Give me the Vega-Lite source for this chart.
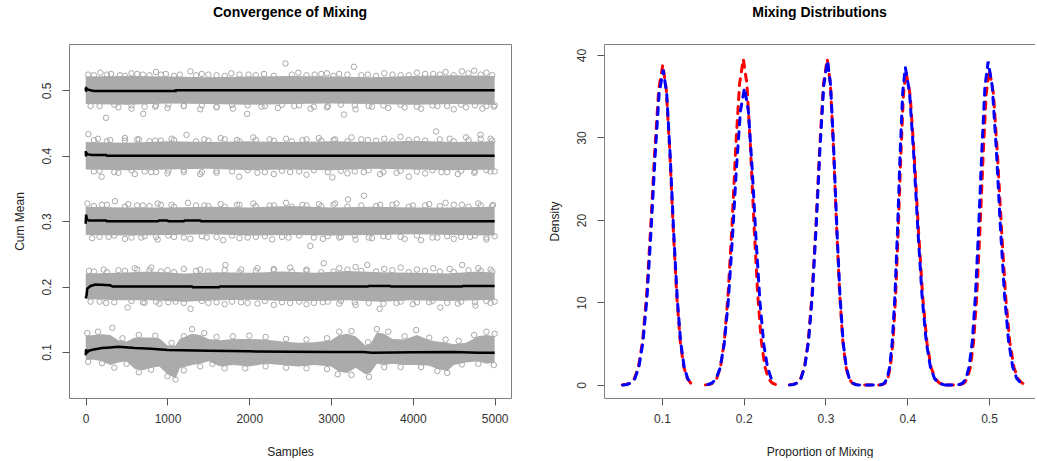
{
  "$schema": "https://vega.github.io/schema/vega-lite/v6.json",
  "padding": {"left": 12, "top": 5, "right": 0, "bottom": 0},
  "background": "white",
  "datasets": {
    "band": [
      {"s":"a","x":0,"lo":0.479,"hi":0.521},{"s":"a","x":500,"lo":0.478,"hi":0.522},{"s":"a","x":1000,"lo":0.480,"hi":0.521},{"s":"a","x":1500,"lo":0.479,"hi":0.520},{"s":"a","x":2000,"lo":0.478,"hi":0.521},{"s":"a","x":2500,"lo":0.479,"hi":0.522},{"s":"a","x":3000,"lo":0.480,"hi":0.521},{"s":"a","x":3500,"lo":0.479,"hi":0.520},{"s":"a","x":4000,"lo":0.478,"hi":0.522},{"s":"a","x":4500,"lo":0.479,"hi":0.523},{"s":"a","x":5000,"lo":0.478,"hi":0.522},
      {"s":"b","x":0,"lo":0.379,"hi":0.421},{"s":"b","x":500,"lo":0.378,"hi":0.420},{"s":"b","x":1000,"lo":0.379,"hi":0.422},{"s":"b","x":1500,"lo":0.380,"hi":0.421},{"s":"b","x":2000,"lo":0.378,"hi":0.422},{"s":"b","x":2500,"lo":0.379,"hi":0.421},{"s":"b","x":3000,"lo":0.378,"hi":0.422},{"s":"b","x":3500,"lo":0.380,"hi":0.421},{"s":"b","x":4000,"lo":0.379,"hi":0.423},{"s":"b","x":4500,"lo":0.378,"hi":0.421},{"s":"b","x":5000,"lo":0.379,"hi":0.422},
      {"s":"c","x":0,"lo":0.279,"hi":0.322},{"s":"c","x":500,"lo":0.278,"hi":0.321},{"s":"c","x":1000,"lo":0.279,"hi":0.321},{"s":"c","x":1500,"lo":0.280,"hi":0.322},{"s":"c","x":2000,"lo":0.278,"hi":0.321},{"s":"c","x":2500,"lo":0.279,"hi":0.323},{"s":"c","x":3000,"lo":0.278,"hi":0.321},{"s":"c","x":3500,"lo":0.279,"hi":0.322},{"s":"c","x":4000,"lo":0.280,"hi":0.321},{"s":"c","x":4500,"lo":0.279,"hi":0.321},{"s":"c","x":5000,"lo":0.278,"hi":0.322},
      {"s":"d","x":0,"lo":0.181,"hi":0.220},{"s":"d","x":400,"lo":0.179,"hi":0.221},{"s":"d","x":800,"lo":0.179,"hi":0.223},{"s":"d","x":1200,"lo":0.177,"hi":0.220},{"s":"d","x":1600,"lo":0.179,"hi":0.222},{"s":"d","x":2000,"lo":0.180,"hi":0.221},{"s":"d","x":2400,"lo":0.178,"hi":0.223},{"s":"d","x":2800,"lo":0.178,"hi":0.221},{"s":"d","x":3200,"lo":0.179,"hi":0.224},{"s":"d","x":3600,"lo":0.177,"hi":0.222},{"s":"d","x":4000,"lo":0.179,"hi":0.221},{"s":"d","x":4400,"lo":0.178,"hi":0.220},{"s":"d","x":4800,"lo":0.179,"hi":0.223},{"s":"d","x":5000,"lo":0.180,"hi":0.221},
      {"s":"e","x":0,"lo":0.088,"hi":0.125},{"s":"e","x":100,"lo":0.088,"hi":0.126},{"s":"e","x":200,"lo":0.086,"hi":0.127},{"s":"e","x":300,"lo":0.080,"hi":0.126},{"s":"e","x":400,"lo":0.084,"hi":0.118},{"s":"e","x":500,"lo":0.086,"hi":0.116},{"s":"e","x":600,"lo":0.074,"hi":0.122},{"s":"e","x":700,"lo":0.072,"hi":0.122},{"s":"e","x":800,"lo":0.076,"hi":0.122},{"s":"e","x":900,"lo":0.078,"hi":0.121},{"s":"e","x":1000,"lo":0.066,"hi":0.110},{"s":"e","x":1100,"lo":0.060,"hi":0.110},{"s":"e","x":1150,"lo":0.075,"hi":0.120},{"s":"e","x":1300,"lo":0.080,"hi":0.128},{"s":"e","x":1400,"lo":0.082,"hi":0.126},{"s":"e","x":1500,"lo":0.086,"hi":0.120},{"s":"e","x":1650,"lo":0.078,"hi":0.118},{"s":"e","x":1800,"lo":0.080,"hi":0.120},{"s":"e","x":2000,"lo":0.078,"hi":0.120},{"s":"e","x":2200,"lo":0.082,"hi":0.119},{"s":"e","x":2400,"lo":0.080,"hi":0.116},{"s":"e","x":2600,"lo":0.078,"hi":0.114},{"s":"e","x":2800,"lo":0.080,"hi":0.115},{"s":"e","x":3000,"lo":0.078,"hi":0.118},{"s":"e","x":3100,"lo":0.070,"hi":0.126},{"s":"e","x":3200,"lo":0.068,"hi":0.128},{"s":"e","x":3300,"lo":0.076,"hi":0.124},{"s":"e","x":3420,"lo":0.066,"hi":0.110},{"s":"e","x":3480,"lo":0.068,"hi":0.112},{"s":"e","x":3560,"lo":0.082,"hi":0.130},{"s":"e","x":3650,"lo":0.080,"hi":0.128},{"s":"e","x":3750,"lo":0.082,"hi":0.120},{"s":"e","x":3900,"lo":0.080,"hi":0.119},{"s":"e","x":4050,"lo":0.080,"hi":0.126},{"s":"e","x":4200,"lo":0.079,"hi":0.118},{"s":"e","x":4300,"lo":0.074,"hi":0.116},{"s":"e","x":4420,"lo":0.071,"hi":0.114},{"s":"e","x":4500,"lo":0.080,"hi":0.112},{"s":"e","x":4650,"lo":0.084,"hi":0.114},{"s":"e","x":4800,"lo":0.086,"hi":0.124},{"s":"e","x":4900,"lo":0.082,"hi":0.126},{"s":"e","x":5000,"lo":0.084,"hi":0.124}
    ],
    "pts": [
      {"x":30,"y":0.524},{"x":180,"y":0.527},{"x":310,"y":0.525},{"x":420,"y":0.523},{"x":560,"y":0.526},{"x":700,"y":0.524},{"x":860,"y":0.528},{"x":980,"y":0.525},{"x":1150,"y":0.524},{"x":1280,"y":0.529},{"x":1420,"y":0.525},{"x":1600,"y":0.523},{"x":1780,"y":0.526},{"x":1990,"y":0.524},{"x":2180,"y":0.525},{"x":2442,"y":0.541},{"x":2600,"y":0.527},{"x":2800,"y":0.524},{"x":2950,"y":0.526},{"x":3100,"y":0.525},{"x":3280,"y":0.536},{"x":3450,"y":0.524},{"x":3650,"y":0.526},{"x":3850,"y":0.523},{"x":4050,"y":0.527},{"x":4250,"y":0.525},{"x":4400,"y":0.528},{"x":4600,"y":0.529},{"x":4750,"y":0.530},{"x":4900,"y":0.527},
      {"x":60,"y":0.476},{"x":248,"y":0.458},{"x":400,"y":0.474},{"x":560,"y":0.472},{"x":704,"y":0.464},{"x":850,"y":0.475},{"x":1000,"y":0.473},{"x":1200,"y":0.476},{"x":1400,"y":0.471},{"x":1600,"y":0.474},{"x":1800,"y":0.472},{"x":1974,"y":0.464},{"x":2150,"y":0.475},{"x":2350,"y":0.473},{"x":2550,"y":0.476},{"x":2750,"y":0.472},{"x":2950,"y":0.474},{"x":3158,"y":0.463},{"x":3300,"y":0.471},{"x":3500,"y":0.475},{"x":3700,"y":0.473},{"x":3900,"y":0.474},{"x":4100,"y":0.472},{"x":4300,"y":0.476},{"x":4500,"y":0.471},{"x":4650,"y":0.474},{"x":4850,"y":0.472},{"x":4990,"y":0.475},
      {"x":100,"y":0.523},{"x":260,"y":0.524},{"x":480,"y":0.522},{"x":630,"y":0.525},{"x":780,"y":0.523},{"x":920,"y":0.524},{"x":1080,"y":0.522},{"x":1350,"y":0.523},{"x":1500,"y":0.524},{"x":1700,"y":0.522},{"x":1880,"y":0.524},{"x":2080,"y":0.523},{"x":2300,"y":0.522},{"x":2520,"y":0.524},{"x":2700,"y":0.523},{"x":2880,"y":0.525},{"x":3030,"y":0.522},{"x":3200,"y":0.524},{"x":3370,"y":0.523},{"x":3550,"y":0.522},{"x":3750,"y":0.524},{"x":3950,"y":0.523},{"x":4150,"y":0.525},{"x":4330,"y":0.524},{"x":4500,"y":0.523},{"x":4680,"y":0.526},{"x":4830,"y":0.524},{"x":4970,"y":0.523},
      {"x":170,"y":0.476},{"x":350,"y":0.478},{"x":560,"y":0.477},{"x":720,"y":0.475},{"x":860,"y":0.477},{"x":1010,"y":0.478},{"x":1200,"y":0.476},{"x":1420,"y":0.477},{"x":1600,"y":0.475},{"x":1790,"y":0.478},{"x":1980,"y":0.477},{"x":2190,"y":0.476},{"x":2400,"y":0.478},{"x":2610,"y":0.477},{"x":2790,"y":0.475},{"x":2960,"y":0.476},{"x":3120,"y":0.478},{"x":3290,"y":0.477},{"x":3460,"y":0.476},{"x":3640,"y":0.477},{"x":3850,"y":0.478},{"x":4050,"y":0.475},{"x":4240,"y":0.477},{"x":4420,"y":0.476},{"x":4590,"y":0.478},{"x":4760,"y":0.477},{"x":4900,"y":0.476},{"x":5000,"y":0.477},
      {"x":33,"y":0.433},{"x":150,"y":0.426},{"x":300,"y":0.424},{"x":480,"y":0.427},{"x":650,"y":0.425},{"x":850,"y":0.423},{"x":1050,"y":0.426},{"x":1233,"y":0.432},{"x":1450,"y":0.425},{"x":1650,"y":0.427},{"x":1850,"y":0.424},{"x":2050,"y":0.428},{"x":2250,"y":0.425},{"x":2450,"y":0.426},{"x":2650,"y":0.424},{"x":2850,"y":0.427},{"x":3050,"y":0.425},{"x":3250,"y":0.428},{"x":3450,"y":0.424},{"x":3650,"y":0.426},{"x":3850,"y":0.429},{"x":4050,"y":0.425},{"x":4285,"y":0.437},{"x":4450,"y":0.426},{"x":4650,"y":0.428},{"x":4827,"y":0.432},{"x":4950,"y":0.426},
      {"x":100,"y":0.376},{"x":195,"y":0.368},{"x":400,"y":0.374},{"x":600,"y":0.372},{"x":800,"y":0.375},{"x":1000,"y":0.373},{"x":1200,"y":0.375},{"x":1400,"y":0.372},{"x":1600,"y":0.374},{"x":1876,"y":0.368},{"x":2100,"y":0.374},{"x":2300,"y":0.372},{"x":2500,"y":0.375},{"x":2700,"y":0.371},{"x":3016,"y":0.367},{"x":3200,"y":0.373},{"x":3400,"y":0.375},{"x":3600,"y":0.372},{"x":3800,"y":0.374},{"x":3952,"y":0.368},{"x":4150,"y":0.373},{"x":4350,"y":0.375},{"x":4550,"y":0.372},{"x":4750,"y":0.374},{"x":4950,"y":0.376},
      {"x":100,"y":0.424},{"x":260,"y":0.422},{"x":480,"y":0.423},{"x":630,"y":0.425},{"x":780,"y":0.422},{"x":920,"y":0.423},{"x":1080,"y":0.424},{"x":1350,"y":0.422},{"x":1500,"y":0.423},{"x":1700,"y":0.425},{"x":1880,"y":0.422},{"x":2080,"y":0.424},{"x":2300,"y":0.423},{"x":2520,"y":0.422},{"x":2700,"y":0.425},{"x":2880,"y":0.423},{"x":3030,"y":0.424},{"x":3200,"y":0.422},{"x":3370,"y":0.425},{"x":3550,"y":0.423},{"x":3750,"y":0.422},{"x":3950,"y":0.424},{"x":4150,"y":0.423},{"x":4330,"y":0.425},{"x":4500,"y":0.422},{"x":4680,"y":0.424},{"x":4830,"y":0.426},{"x":4970,"y":0.423},
      {"x":170,"y":0.377},{"x":350,"y":0.375},{"x":560,"y":0.378},{"x":720,"y":0.376},{"x":860,"y":0.375},{"x":1010,"y":0.377},{"x":1200,"y":0.378},{"x":1420,"y":0.375},{"x":1600,"y":0.377},{"x":1790,"y":0.376},{"x":1980,"y":0.378},{"x":2190,"y":0.375},{"x":2400,"y":0.377},{"x":2610,"y":0.376},{"x":2790,"y":0.378},{"x":2960,"y":0.375},{"x":3120,"y":0.377},{"x":3290,"y":0.376},{"x":3460,"y":0.378},{"x":3640,"y":0.375},{"x":3850,"y":0.377},{"x":4050,"y":0.376},{"x":4240,"y":0.378},{"x":4420,"y":0.375},{"x":4590,"y":0.377},{"x":4760,"y":0.376},{"x":4900,"y":0.378},{"x":5000,"y":0.376},
      {"x":20,"y":0.327},{"x":200,"y":0.325},{"x":358,"y":0.3305},{"x":520,"y":0.326},{"x":700,"y":0.324},{"x":880,"y":0.327},{"x":1050,"y":0.325},{"x":1250,"y":0.328},{"x":1450,"y":0.324},{"x":1650,"y":0.326},{"x":1850,"y":0.325},{"x":2050,"y":0.327},{"x":2250,"y":0.324},{"x":2450,"y":0.328},{"x":2650,"y":0.325},{"x":2850,"y":0.326},{"x":3050,"y":0.327},{"x":3207,"y":0.333},{"x":3402,"y":0.339},{"x":3600,"y":0.325},{"x":3800,"y":0.327},{"x":4000,"y":0.324},{"x":4200,"y":0.326},{"x":4400,"y":0.328},{"x":4600,"y":0.325},{"x":4800,"y":0.327},{"x":4980,"y":0.325},
      {"x":80,"y":0.274},{"x":280,"y":0.276},{"x":480,"y":0.273},{"x":680,"y":0.275},{"x":880,"y":0.272},{"x":1080,"y":0.276},{"x":1280,"y":0.273},{"x":1480,"y":0.275},{"x":1680,"y":0.271},{"x":1880,"y":0.274},{"x":2080,"y":0.276},{"x":2280,"y":0.272},{"x":2480,"y":0.275},{"x":2747,"y":0.262},{"x":2900,"y":0.273},{"x":3100,"y":0.275},{"x":3300,"y":0.272},{"x":3500,"y":0.274},{"x":3700,"y":0.276},{"x":3900,"y":0.273},{"x":4100,"y":0.271},{"x":4300,"y":0.275},{"x":4500,"y":0.273},{"x":4700,"y":0.276},{"x":4900,"y":0.272},
      {"x":100,"y":0.323},{"x":260,"y":0.325},{"x":480,"y":0.322},{"x":630,"y":0.324},{"x":780,"y":0.323},{"x":920,"y":0.325},{"x":1080,"y":0.322},{"x":1350,"y":0.324},{"x":1500,"y":0.323},{"x":1700,"y":0.322},{"x":1880,"y":0.325},{"x":2080,"y":0.323},{"x":2300,"y":0.324},{"x":2520,"y":0.322},{"x":2700,"y":0.324},{"x":2880,"y":0.323},{"x":3030,"y":0.325},{"x":3200,"y":0.322},{"x":3370,"y":0.324},{"x":3550,"y":0.323},{"x":3750,"y":0.325},{"x":3950,"y":0.322},{"x":4150,"y":0.324},{"x":4330,"y":0.323},{"x":4500,"y":0.325},{"x":4680,"y":0.322},{"x":4830,"y":0.324},{"x":4970,"y":0.323},
      {"x":170,"y":0.276},{"x":350,"y":0.278},{"x":560,"y":0.275},{"x":720,"y":0.277},{"x":860,"y":0.276},{"x":1010,"y":0.278},{"x":1200,"y":0.275},{"x":1420,"y":0.277},{"x":1600,"y":0.276},{"x":1790,"y":0.278},{"x":1980,"y":0.275},{"x":2190,"y":0.277},{"x":2400,"y":0.276},{"x":2610,"y":0.278},{"x":2790,"y":0.275},{"x":2960,"y":0.277},{"x":3120,"y":0.276},{"x":3290,"y":0.278},{"x":3460,"y":0.275},{"x":3640,"y":0.277},{"x":3850,"y":0.276},{"x":4050,"y":0.278},{"x":4240,"y":0.275},{"x":4420,"y":0.277},{"x":4590,"y":0.276},{"x":4760,"y":0.278},{"x":4900,"y":0.275},{"x":5000,"y":0.277},
      {"x":40,"y":0.224},{"x":220,"y":0.226},{"x":400,"y":0.225},{"x":600,"y":0.228},{"x":800,"y":0.229},{"x":1000,"y":0.225},{"x":1200,"y":0.227},{"x":1400,"y":0.226},{"x":1709,"y":0.233},{"x":1900,"y":0.226},{"x":2100,"y":0.228},{"x":2300,"y":0.227},{"x":2500,"y":0.229},{"x":2700,"y":0.226},{"x":2910,"y":0.2356},{"x":3100,"y":0.228},{"x":3300,"y":0.230},{"x":3443,"y":0.233},{"x":3650,"y":0.227},{"x":3850,"y":0.229},{"x":4050,"y":0.226},{"x":4250,"y":0.228},{"x":4450,"y":0.227},{"x":4603,"y":0.233},{"x":4800,"y":0.228},{"x":4950,"y":0.226},
      {"x":60,"y":0.177},{"x":250,"y":0.175},{"x":513,"y":0.168},{"x":700,"y":0.176},{"x":900,"y":0.174},{"x":1100,"y":0.177},{"x":1282,"y":0.166},{"x":1500,"y":0.175},{"x":1700,"y":0.173},{"x":1900,"y":0.176},{"x":2100,"y":0.174},{"x":2300,"y":0.172},{"x":2500,"y":0.175},{"x":2700,"y":0.173},{"x":2900,"y":0.176},{"x":3100,"y":0.174},{"x":3300,"y":0.172},{"x":3594,"y":0.166},{"x":3800,"y":0.175},{"x":4000,"y":0.173},{"x":4200,"y":0.176},{"x":4335,"y":0.168},{"x":4550,"y":0.174},{"x":4766,"y":0.171},{"x":4950,"y":0.175},
      {"x":100,"y":0.223},{"x":260,"y":0.222},{"x":480,"y":0.224},{"x":630,"y":0.226},{"x":780,"y":0.225},{"x":920,"y":0.223},{"x":1080,"y":0.222},{"x":1350,"y":0.224},{"x":1500,"y":0.223},{"x":1700,"y":0.225},{"x":1880,"y":0.222},{"x":2080,"y":0.224},{"x":2300,"y":0.225},{"x":2520,"y":0.223},{"x":2700,"y":0.224},{"x":2880,"y":0.222},{"x":3030,"y":0.223},{"x":3200,"y":0.226},{"x":3370,"y":0.224},{"x":3550,"y":0.223},{"x":3750,"y":0.225},{"x":3950,"y":0.222},{"x":4150,"y":0.224},{"x":4330,"y":0.223},{"x":4500,"y":0.222},{"x":4680,"y":0.225},{"x":4830,"y":0.224},{"x":4970,"y":0.223},
      {"x":170,"y":0.177},{"x":350,"y":0.176},{"x":560,"y":0.178},{"x":720,"y":0.175},{"x":860,"y":0.177},{"x":1010,"y":0.176},{"x":1200,"y":0.175},{"x":1420,"y":0.178},{"x":1600,"y":0.176},{"x":1790,"y":0.177},{"x":1980,"y":0.175},{"x":2190,"y":0.178},{"x":2400,"y":0.176},{"x":2610,"y":0.177},{"x":2790,"y":0.175},{"x":2960,"y":0.177},{"x":3120,"y":0.178},{"x":3290,"y":0.176},{"x":3460,"y":0.175},{"x":3640,"y":0.174},{"x":3850,"y":0.177},{"x":4050,"y":0.176},{"x":4240,"y":0.178},{"x":4420,"y":0.175},{"x":4590,"y":0.177},{"x":4760,"y":0.176},{"x":4900,"y":0.178},{"x":5000,"y":0.177},
      {"x":20,"y":0.129},{"x":150,"y":0.131},{"x":326,"y":0.137},{"x":450,"y":0.121},{"x":650,"y":0.126},{"x":850,"y":0.125},{"x":1050,"y":0.114},{"x":1200,"y":0.124},{"x":1300,"y":0.135},{"x":1450,"y":0.129},{"x":1600,"y":0.123},{"x":1800,"y":0.124},{"x":2000,"y":0.125},{"x":2200,"y":0.123},{"x":2450,"y":0.120},{"x":2700,"y":0.119},{"x":2950,"y":0.121},{"x":3100,"y":0.131},{"x":3250,"y":0.132},{"x":3450,"y":0.115},{"x":3560,"y":0.135},{"x":3700,"y":0.131},{"x":3900,"y":0.124},{"x":4041,"y":0.1336},{"x":4200,"y":0.122},{"x":4400,"y":0.119},{"x":4560,"y":0.117},{"x":4750,"y":0.126},{"x":4900,"y":0.131},{"x":5000,"y":0.128},
      {"x":30,"y":0.085},{"x":200,"y":0.083},{"x":350,"y":0.076},{"x":500,"y":0.082},{"x":650,"y":0.069},{"x":800,"y":0.073},{"x":1000,"y":0.063},{"x":1099,"y":0.058},{"x":1200,"y":0.072},{"x":1400,"y":0.078},{"x":1550,"y":0.082},{"x":1700,"y":0.075},{"x":1950,"y":0.075},{"x":2200,"y":0.078},{"x":2450,"y":0.076},{"x":2700,"y":0.075},{"x":2950,"y":0.074},{"x":3081,"y":0.066},{"x":3250,"y":0.065},{"x":3464,"y":0.062},{"x":3650,"y":0.077},{"x":3850,"y":0.077},{"x":4100,"y":0.077},{"x":4300,"y":0.071},{"x":4420,"y":0.068},{"x":4600,"y":0.081},{"x":4800,"y":0.082},{"x":4990,"y":0.080}
    ],
    "cum": [
      {"s":"a","x":0,"m":0.504},{"s":"a","x":5,"m":0.498},{"s":"a","x":10,"m":0.503},{"s":"a","x":30,"m":0.501},{"s":"a","x":100,"m":0.499},{"s":"a","x":1100,"m":0.499},{"s":"a","x":1101,"m":0.5},{"s":"a","x":5000,"m":0.5},
      {"s":"b","x":0,"m":0.407},{"s":"b","x":5,"m":0.399},{"s":"b","x":10,"m":0.404},{"s":"b","x":30,"m":0.402},{"s":"b","x":80,"m":0.401},{"s":"b","x":250,"m":0.401},{"s":"b","x":260,"m":0.4},{"s":"b","x":5000,"m":0.4},
      {"s":"c","x":0,"m":0.296},{"s":"c","x":5,"m":0.31},{"s":"c","x":15,"m":0.303},{"s":"c","x":40,"m":0.301},{"s":"c","x":250,"m":0.301},{"s":"c","x":260,"m":0.3},{"s":"c","x":880,"m":0.3},{"s":"c","x":900,"m":0.301},{"s":"c","x":1000,"m":0.301},{"s":"c","x":1010,"m":0.3},{"s":"c","x":1200,"m":0.3},{"s":"c","x":1210,"m":0.301},{"s":"c","x":1400,"m":0.301},{"s":"c","x":1410,"m":0.3},{"s":"c","x":5000,"m":0.3},
      {"s":"d","x":0,"m":0.182},{"s":"d","x":10,"m":0.186},{"s":"d","x":20,"m":0.197},{"s":"d","x":60,"m":0.201},{"s":"d","x":120,"m":0.203},{"s":"d","x":300,"m":0.202},{"s":"d","x":330,"m":0.2},{"s":"d","x":1300,"m":0.2},{"s":"d","x":1310,"m":0.199},{"s":"d","x":1630,"m":0.199},{"s":"d","x":1640,"m":0.2},{"s":"d","x":3450,"m":0.2},{"s":"d","x":3460,"m":0.201},{"s":"d","x":3720,"m":0.201},{"s":"d","x":3730,"m":0.2},{"s":"d","x":4600,"m":0.2},{"s":"d","x":4610,"m":0.201},{"s":"d","x":5000,"m":0.201},
      {"s":"e","x":0,"m":0.095},{"s":"e","x":5,"m":0.104},{"s":"e","x":15,"m":0.099},{"s":"e","x":40,"m":0.102},{"s":"e","x":100,"m":0.104},{"s":"e","x":200,"m":0.106},{"s":"e","x":300,"m":0.107},{"s":"e","x":400,"m":0.108},{"s":"e","x":600,"m":0.106},{"s":"e","x":800,"m":0.105},{"s":"e","x":1000,"m":0.103},{"s":"e","x":1500,"m":0.102},{"s":"e","x":2000,"m":0.101},{"s":"e","x":2500,"m":0.1005},{"s":"e","x":3000,"m":0.1},{"s":"e","x":3400,"m":0.1},{"s":"e","x":3500,"m":0.099},{"s":"e","x":4000,"m":0.0995},{"s":"e","x":4500,"m":0.1},{"s":"e","x":4800,"m":0.099},{"s":"e","x":5000,"m":0.099}
    ],
    "dens": [
      {"c":"R","k":1,"x":0.0514,"d":0.01},{"c":"R","k":1,"x":0.0564,"d":0.06},{"c":"R","k":1,"x":0.0613,"d":0.23},{"c":"R","k":1,"x":0.0663,"d":0.77},{"c":"R","k":1,"x":0.0712,"d":2.18},{"c":"R","k":1,"x":0.0762,"d":5.24},{"c":"R","k":1,"x":0.0812,"d":10.8},{"c":"R","k":1,"x":0.0861,"d":18.9},{"c":"R","k":1,"x":0.0911,"d":28.2},{"c":"R","k":1,"x":0.0960,"d":35.8},{"c":"R","k":1,"x":0.1010,"d":38.8},{"c":"R","k":1,"x":0.1053,"d":35.8},{"c":"R","k":1,"x":0.1096,"d":28.2},{"c":"R","k":1,"x":0.1138,"d":18.9},{"c":"R","k":1,"x":0.1181,"d":10.8},{"c":"R","k":1,"x":0.1224,"d":5.24},{"c":"R","k":1,"x":0.1267,"d":2.18},{"c":"R","k":1,"x":0.1310,"d":0.77},{"c":"R","k":1,"x":0.1352,"d":0.23},
      {"c":"R","k":2,"x":0.1531,"d":0.01},{"c":"R","k":2,"x":0.1577,"d":0.06},{"c":"R","k":2,"x":0.1624,"d":0.24},{"c":"R","k":2,"x":0.1670,"d":0.78},{"c":"R","k":2,"x":0.1717,"d":2.22},{"c":"R","k":2,"x":0.1763,"d":5.33},{"c":"R","k":2,"x":0.1809,"d":11.0},{"c":"R","k":2,"x":0.1856,"d":19.2},{"c":"R","k":2,"x":0.1902,"d":28.7},{"c":"R","k":2,"x":0.1949,"d":36.5},{"c":"R","k":2,"x":0.1995,"d":39.5},{"c":"R","k":2,"x":0.2039,"d":36.5},{"c":"R","k":2,"x":0.2083,"d":28.7},{"c":"R","k":2,"x":0.2127,"d":19.2},{"c":"R","k":2,"x":0.2171,"d":11.0},{"c":"R","k":2,"x":0.2215,"d":5.33},{"c":"R","k":2,"x":0.2259,"d":2.22},{"c":"R","k":2,"x":0.2303,"d":0.78},{"c":"R","k":2,"x":0.2347,"d":0.24},{"c":"R","k":2,"x":0.2391,"d":0.06},
      {"c":"R","k":3,"x":0.2558,"d":0.01},{"c":"R","k":3,"x":0.2604,"d":0.06},{"c":"R","k":3,"x":0.2651,"d":0.24},{"c":"R","k":3,"x":0.2697,"d":0.78},{"c":"R","k":3,"x":0.2744,"d":2.22},{"c":"R","k":3,"x":0.2790,"d":5.33},{"c":"R","k":3,"x":0.2836,"d":11.0},{"c":"R","k":3,"x":0.2883,"d":19.2},{"c":"R","k":3,"x":0.2929,"d":28.7},{"c":"R","k":3,"x":0.2976,"d":36.5},{"c":"R","k":3,"x":0.3022,"d":39.5},{"c":"R","k":3,"x":0.3060,"d":36.5},{"c":"R","k":3,"x":0.3098,"d":28.7},{"c":"R","k":3,"x":0.3136,"d":19.2},{"c":"R","k":3,"x":0.3174,"d":11.0},{"c":"R","k":3,"x":0.3212,"d":5.33},{"c":"R","k":3,"x":0.3250,"d":2.22},{"c":"R","k":3,"x":0.3288,"d":0.78},{"c":"R","k":3,"x":0.3326,"d":0.24},{"c":"R","k":3,"x":0.3364,"d":0.06},{"c":"R","k":3,"x":0.3402,"d":0.01},
      {"c":"R","k":4,"x":0.3480,"d":0},{"c":"R","k":4,"x":0.3665,"d":0.01},{"c":"R","k":4,"x":0.3697,"d":0.06},{"c":"R","k":4,"x":0.3729,"d":0.23},{"c":"R","k":4,"x":0.3761,"d":0.75},{"c":"R","k":4,"x":0.3793,"d":2.13},{"c":"R","k":4,"x":0.3825,"d":5.13},{"c":"R","k":4,"x":0.3857,"d":10.6},{"c":"R","k":4,"x":0.3889,"d":18.5},{"c":"R","k":4,"x":0.3921,"d":27.6},{"c":"R","k":4,"x":0.3953,"d":35.1},{"c":"R","k":4,"x":0.3985,"d":38.0},{"c":"R","k":4,"x":0.4036,"d":35.1},{"c":"R","k":4,"x":0.4087,"d":27.6},{"c":"R","k":4,"x":0.4139,"d":18.5},{"c":"R","k":4,"x":0.4190,"d":10.6},{"c":"R","k":4,"x":0.4241,"d":5.13},{"c":"R","k":4,"x":0.4292,"d":2.13},{"c":"R","k":4,"x":0.4343,"d":0.75},{"c":"R","k":4,"x":0.4395,"d":0.23},{"c":"R","k":4,"x":0.4446,"d":0.06},
      {"c":"R","k":5,"x":0.4480,"d":0},{"c":"R","k":5,"x":0.4617,"d":0.01},{"c":"R","k":5,"x":0.4656,"d":0.06},{"c":"R","k":5,"x":0.4695,"d":0.23},{"c":"R","k":5,"x":0.4734,"d":0.76},{"c":"R","k":5,"x":0.4772,"d":2.14},{"c":"R","k":5,"x":0.4811,"d":5.16},{"c":"R","k":5,"x":0.4850,"d":10.6},{"c":"R","k":5,"x":0.4889,"d":18.6},{"c":"R","k":5,"x":0.4928,"d":27.7},{"c":"R","k":5,"x":0.4966,"d":35.3},{"c":"R","k":5,"x":0.5005,"d":38.2},{"c":"R","k":5,"x":0.5055,"d":35.3},{"c":"R","k":5,"x":0.5105,"d":27.7},{"c":"R","k":5,"x":0.5155,"d":18.6},{"c":"R","k":5,"x":0.5205,"d":10.6},{"c":"R","k":5,"x":0.5255,"d":5.16},{"c":"R","k":5,"x":0.5305,"d":2.14},{"c":"R","k":5,"x":0.5355,"d":0.76},{"c":"R","k":5,"x":0.5405,"d":0.23},{"c":"R","k":5,"x":0.5455,"d":0.06},
      {"c":"B","k":1,"x":0.0519,"d":0.01},{"c":"B","k":1,"x":0.0569,"d":0.06},{"c":"B","k":1,"x":0.0618,"d":0.23},{"c":"B","k":1,"x":0.0668,"d":0.76},{"c":"B","k":1,"x":0.0717,"d":2.14},{"c":"B","k":1,"x":0.0767,"d":5.16},{"c":"B","k":1,"x":0.0817,"d":10.6},{"c":"B","k":1,"x":0.0866,"d":18.6},{"c":"B","k":1,"x":0.0916,"d":27.7},{"c":"B","k":1,"x":0.0965,"d":35.3},{"c":"B","k":1,"x":0.1015,"d":38.2},{"c":"B","k":1,"x":0.1058,"d":35.3},{"c":"B","k":1,"x":0.1101,"d":27.7},{"c":"B","k":1,"x":0.1143,"d":18.6},{"c":"B","k":1,"x":0.1186,"d":10.6},{"c":"B","k":1,"x":0.1229,"d":5.16},{"c":"B","k":1,"x":0.1272,"d":2.14},{"c":"B","k":1,"x":0.1315,"d":0.76},{"c":"B","k":1,"x":0.1357,"d":0.23},
      {"c":"B","k":2,"x":0.1560,"d":0.05},{"c":"B","k":2,"x":0.1610,"d":0.22},{"c":"B","k":2,"x":0.1660,"d":0.71},{"c":"B","k":2,"x":0.1710,"d":2.02},{"c":"B","k":2,"x":0.1760,"d":4.86},{"c":"B","k":2,"x":0.1810,"d":10.0},{"c":"B","k":2,"x":0.1860,"d":17.5},{"c":"B","k":2,"x":0.1910,"d":26.1},{"c":"B","k":2,"x":0.1960,"d":33.2},{"c":"B","k":2,"x":0.2010,"d":36.0},{"c":"B","k":2,"x":0.2057,"d":33.2},{"c":"B","k":2,"x":0.2104,"d":26.1},{"c":"B","k":2,"x":0.2152,"d":17.5},{"c":"B","k":2,"x":0.2199,"d":10.0},{"c":"B","k":2,"x":0.2246,"d":4.86},{"c":"B","k":2,"x":0.2293,"d":2.02},{"c":"B","k":2,"x":0.2340,"d":0.71},{"c":"B","k":2,"x":0.2388,"d":0.22},
      {"c":"B","k":3,"x":0.2561,"d":0.01},{"c":"B","k":3,"x":0.2607,"d":0.06},{"c":"B","k":3,"x":0.2654,"d":0.24},{"c":"B","k":3,"x":0.2700,"d":0.78},{"c":"B","k":3,"x":0.2747,"d":2.20},{"c":"B","k":3,"x":0.2793,"d":5.31},{"c":"B","k":3,"x":0.2839,"d":10.9},{"c":"B","k":3,"x":0.2886,"d":19.1},{"c":"B","k":3,"x":0.2932,"d":28.5},{"c":"B","k":3,"x":0.2979,"d":36.3},{"c":"B","k":3,"x":0.3025,"d":39.3},{"c":"B","k":3,"x":0.3063,"d":36.3},{"c":"B","k":3,"x":0.3101,"d":28.5},{"c":"B","k":3,"x":0.3139,"d":19.1},{"c":"B","k":3,"x":0.3177,"d":10.9},{"c":"B","k":3,"x":0.3215,"d":5.31},{"c":"B","k":3,"x":0.3253,"d":2.20},{"c":"B","k":3,"x":0.3291,"d":0.78},{"c":"B","k":3,"x":0.3329,"d":0.24},{"c":"B","k":3,"x":0.3367,"d":0.06},{"c":"B","k":3,"x":0.3405,"d":0.01},{"c":"B","k":3,"x":0.3430,"d":0},
      {"c":"B","k":4,"x":0.3500,"d":0},{"c":"B","k":4,"x":0.3657,"d":0.01},{"c":"B","k":4,"x":0.3689,"d":0.06},{"c":"B","k":4,"x":0.3721,"d":0.23},{"c":"B","k":4,"x":0.3753,"d":0.76},{"c":"B","k":4,"x":0.3785,"d":2.16},{"c":"B","k":4,"x":0.3817,"d":5.20},{"c":"B","k":4,"x":0.3849,"d":10.7},{"c":"B","k":4,"x":0.3881,"d":18.7},{"c":"B","k":4,"x":0.3913,"d":28.0},{"c":"B","k":4,"x":0.3945,"d":35.5},{"c":"B","k":4,"x":0.3977,"d":38.5},{"c":"B","k":4,"x":0.4028,"d":35.5},{"c":"B","k":4,"x":0.4079,"d":28.0},{"c":"B","k":4,"x":0.4131,"d":18.7},{"c":"B","k":4,"x":0.4182,"d":10.7},{"c":"B","k":4,"x":0.4233,"d":5.20},{"c":"B","k":4,"x":0.4284,"d":2.16},{"c":"B","k":4,"x":0.4335,"d":0.76},{"c":"B","k":4,"x":0.4387,"d":0.23},{"c":"B","k":4,"x":0.4438,"d":0.06},
      {"c":"B","k":5,"x":0.4460,"d":0},{"c":"B","k":5,"x":0.4602,"d":0.01},{"c":"B","k":5,"x":0.4641,"d":0.06},{"c":"B","k":5,"x":0.4680,"d":0.24},{"c":"B","k":5,"x":0.4719,"d":0.78},{"c":"B","k":5,"x":0.4757,"d":2.20},{"c":"B","k":5,"x":0.4796,"d":5.29},{"c":"B","k":5,"x":0.4835,"d":10.9},{"c":"B","k":5,"x":0.4874,"d":19.1},{"c":"B","k":5,"x":0.4913,"d":28.5},{"c":"B","k":5,"x":0.4951,"d":36.2},{"c":"B","k":5,"x":0.4990,"d":39.2},{"c":"B","k":5,"x":0.5040,"d":36.2},{"c":"B","k":5,"x":0.5090,"d":28.5},{"c":"B","k":5,"x":0.5140,"d":19.1},{"c":"B","k":5,"x":0.5190,"d":10.9},{"c":"B","k":5,"x":0.5240,"d":5.29},{"c":"B","k":5,"x":0.5290,"d":2.20},{"c":"B","k":5,"x":0.5340,"d":0.78},{"c":"B","k":5,"x":0.5390,"d":0.24},{"c":"B","k":5,"x":0.5440,"d":0.06}
    ]
  },
  "hconcat": [
    {
      "width": 442,
      "height": 354,
      "title": {"text": "Convergence of Mixing"},
      "layer": [
        {
          "data": {"name": "band"},
          "mark": {"type": "area", "color": "#ABABAB", "opacity": 1},
          "encoding": {
            "x": {"field": "x", "type": "quantitative", "scale": {"domain": [-204, 5200], "nice": false, "zero": false}, "axis": {"values": [0, 1000, 2000, 3000, 4000, 5000], "format": "d", "title": "Samples"}},
            "y": {"field": "lo", "type": "quantitative", "scale": {"domain": [0.0297, 0.5708], "nice": false, "zero": false}, "axis": {"values": [0.1, 0.2, 0.3, 0.4, 0.5], "format": ".1f", "title": "Cum Mean"}},
            "y2": {"field": "hi"},
            "detail": {"field": "s"}
          }
        },
        {
          "data": {"name": "pts"},
          "mark": {"type": "point", "shape": "circle", "filled": false, "color": "#A9A9A9", "size": 30, "strokeWidth": 1, "opacity": 1},
          "encoding": {
            "x": {"field": "x", "type": "quantitative"},
            "y": {"field": "y", "type": "quantitative"}
          }
        },
        {
          "data": {"name": "cum"},
          "mark": {"type": "line", "color": "#000000", "strokeWidth": 2.5},
          "encoding": {
            "x": {"field": "x", "type": "quantitative"},
            "y": {"field": "m", "type": "quantitative"},
            "detail": {"field": "s"}
          }
        }
      ]
    },
    {
      "width": 431,
      "height": 354,
      "view": {"stroke": null},
      "title": {"text": "Mixing Distributions"},
      "data": {"name": "dens"},
      "layer": [
        {
          "transform": [{"filter": "datum.c == 'R'"}],
          "mark": {"type": "line", "color": "#FF0000", "strokeWidth": 3, "strokeDash": [7, 7], "strokeCap": "round"},
          "encoding": {
            "x": {"field": "x", "type": "quantitative", "scale": {"domain": [0.0291, 0.5563], "nice": false, "zero": false}, "axis": {"orient": "top", "domain": true, "domainColor": "#808080", "ticks": false, "labels": false, "title": null}},
            "y": {"field": "d", "type": "quantitative", "scale": {"domain": [-1.58, 41.33], "nice": false, "zero": false}, "axis": {"values": [0, 10, 20, 30, 40], "title": "Density", "domain": true, "domainColor": "#808080"}},
            "detail": {"field": "k"}
          }
        },
        {
          "transform": [{"filter": "datum.c == 'B'"}],
          "mark": {"type": "line", "color": "#0000FF", "strokeWidth": 3, "strokeDash": [7, 7], "strokeCap": "round"},
          "encoding": {
            "x": {"field": "x", "type": "quantitative", "axis": {"values": [0.1, 0.2, 0.3, 0.4, 0.5], "format": ".1f", "title": "Proportion of Mixing", "domain": true, "domainColor": "#808080"}},
            "y": {"field": "d", "type": "quantitative", "axis": {"values": [0, 10, 20, 30, 40], "title": "Density", "domain": true, "domainColor": "#808080"}},
            "detail": {"field": "k"}
          }
        }
      ],
      "resolve": {"axis": {"x": "independent"}}
    }
  ],
  "config": {
    "font": "Liberation Sans",
    "view": {"stroke": "#808080", "strokeWidth": 1},
    "concat": {"spacing": 36},
    "axis": {"grid": false, "domain": false, "tickColor": "#555555", "tickSize": 7, "labelFont": "Liberation Sans", "labelFontSize": 12, "labelColor": "#333333", "titleFont": "Liberation Sans", "titleFontSize": 12, "titleFontWeight": "normal", "titleColor": "#222222"},
    "axisX": {"labelPadding": 8, "titlePadding": 22},
    "axisY": {"labelAngle": -90, "labelAlign": "center", "labelBaseline": "bottom", "labelPadding": 9, "titlePadding": 14},
    "title": {"fontSize": 14, "fontWeight": "bold", "color": "#000000", "offset": 24, "anchor": "middle", "frame": "group", "font": "Liberation Sans"}
  }
}
